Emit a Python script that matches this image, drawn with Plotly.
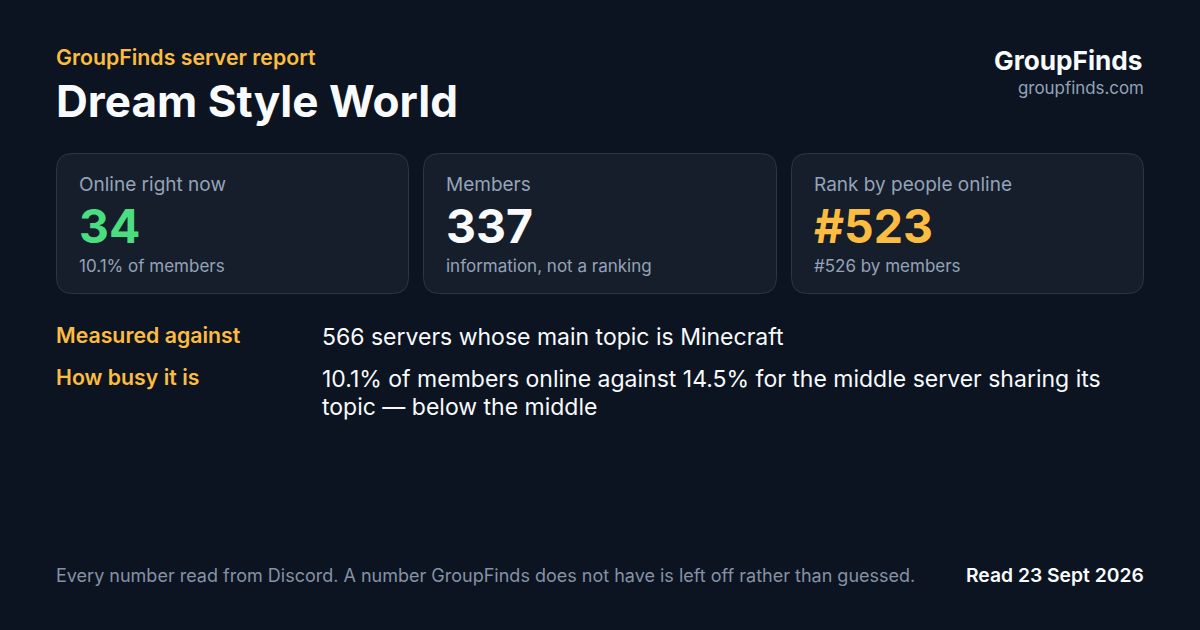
import plotly.graph_objects as go

card_labels = ["Online right now", "Members", "Rank by people online"]
card_values = ["34", "337", "#523"]
card_notes = ["10.1% of members", "information, not a ranking", "#526 by members"]
row_labels = ["Measured against", "How busy it is"]
row_lines = [
    ["566 servers whose main topic is Minecraft"],
    ["10.1% of members online against 14.5% for the middle server sharing its",
     "topic \u2014 below the middle"],
]

BG = "#0c1421"
CARD = "#161e2b"
EDGE = "#2e3643"
WHITE = "#f8fafc"
AMBER = "#fbbc41"
GREEN = "#4ade80"
MUTED = "#94a3b8"
FOOT = "#8592a6"
FONT = "Inter"

card_colors = [GREEN, WHITE, AMBER]
card_left = [56.5, 423.5, 791.5]
card_right = [408.5, 776.5, 1143.5]
card_top, card_bottom = 153.5, 293.5

fig = go.Figure()


def text(x, y, s, size, color, weight=400, anchor="left"):
    fig.add_annotation(x=x, y=y, text=s, showarrow=False, xanchor=anchor, yanchor="middle",
                       xref="x", yref="y", borderpad=0, borderwidth=0,
                       font=dict(family=FONT, size=size, color=color, weight=weight))


def card_path(x0, y0, x1, y1, r=16):
    return (f"M{x0+r},{y0} L{x1-r},{y0} Q{x1},{y0} {x1},{y0+r} L{x1},{y1-r} Q{x1},{y1} {x1-r},{y1} "
            f"L{x0+r},{y1} Q{x0},{y1} {x0},{y1-r} L{x0},{y0+r} Q{x0},{y0} {x0+r},{y0} Z")


# header
text(56, 57, "GroupFinds server report", 21.3, AMBER, 600)
text(56, 100.5, "Dream Style World", 44.1, WHITE, 700)
text(1143, 60, "GroupFinds", 26.2, WHITE, 700, "right")
text(1143.5, 88, "groupfinds.com", 16.9, MUTED, 400, "right")

# stat cards
for i in range(3):
    fig.add_shape(type="path", path=card_path(card_left[i], card_top, card_right[i], card_bottom),
                  fillcolor=CARD, line=dict(color=EDGE, width=1), layer="below")
    tx = card_left[i] + 22.5
    text(tx, 184, card_labels[i], 19, MUTED)
    text(tx, 225.5, card_values[i], 46.4, card_colors[i], 700)
    text(tx, 266, card_notes[i], 17, MUTED)

# detail rows
row_y = [335, 377]
for i in range(2):
    text(56, row_y[i], row_labels[i], 21.3, AMBER, 600)
    for j, line in enumerate(row_lines[i]):
        text(322, row_y[i] + 2 + j * 28, line, 23, WHITE)

# footer
text(56, 575.5, "Every number read from Discord. A number GroupFinds does not have is left off rather than guessed.",
     18, FOOT)
text(1143.5, 575, "Read 23 Sept 2026", 19.3, WHITE, 600, "right")

fig.update_xaxes(range=[0, 1200], visible=False, fixedrange=True)
fig.update_yaxes(range=[630, 0], visible=False, fixedrange=True)
fig.update_layout(width=1200, height=630, margin=dict(l=0, r=0, t=0, b=0),
                  paper_bgcolor=BG, plot_bgcolor=BG, showlegend=False)
fig.write_html("out.html", config=dict(displayModeBar=False),
               post_script="document.body.style.margin='0';document.body.style.background='%s';" % BG)
